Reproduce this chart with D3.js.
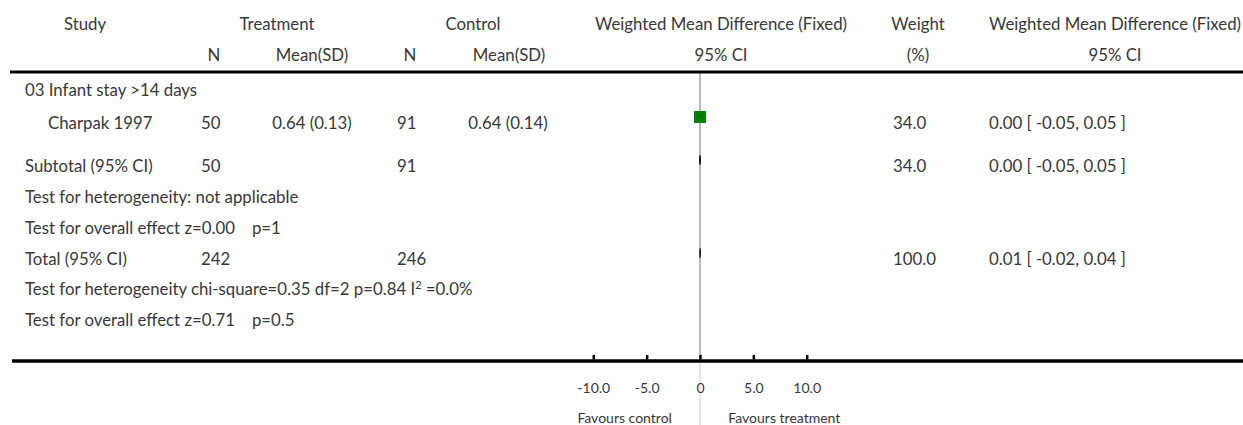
<!DOCTYPE html>
<html>
<head>
<meta charset="utf-8">
<script src="https://cdn.jsdelivr.net/npm/d3@7"></script>
<style>
  html, body { margin: 0; padding: 0; background: #fff; }
  svg text { font-family: Lato, "Open Sans", sans-serif; fill: #383838; white-space: pre; }
</style>
</head>
<body>
<svg id="forest" width="1243" height="425"></svg>
<script>
// Column headings
const headTop = ["Study", "Treatment", "Control", "Weighted Mean Difference (Fixed)", "Weight", "Weighted Mean Difference (Fixed)"];
const headBottom = ["N", "Mean(SD)", "N", "Mean(SD)", "95% CI", "(%)", "95% CI"];

// Subgroup
const groupTitle = "03 Infant stay >14 days";

// Individual studies
const studyNames = ["Charpak 1997"];
const treatN = [50];
const treatMeanSD = ["0.64 (0.13)"];
const ctrlN = [91];
const ctrlMeanSD = ["0.64 (0.14)"];
const studyEst = [0.00];
const studyLow = [-0.05];
const studyHigh = [0.05];
const studyWeight = [34.0];

// Subtotal and overall pooled results: [estimate, lower, upper]
const subtotalN = [50, 91];
const subtotalCI = [0.00, -0.05, 0.05];
const subtotalWeight = 34.0;
const totalN = [242, 246];
const totalCI = [0.01, -0.02, 0.04];
const totalWeight = 100.0;

// Test statistics lines
const subHetText = "Test for heterogeneity: not applicable";
const subEffect = ["Test for overall effect z=0.00", "p=1"];
const totHetText = ["Test for heterogeneity chi-square=0.35 df=2 p=0.84 I", "2", " =0.0%"];
const totEffect = ["Test for overall effect z=0.71", "p=0.5"];

// Axis
const tickValues = [-10, -5, 0, 5, 10];
const tickLabels = ["-10.0", "-5.0", "0", "5.0", "10.0"];
const favourLabels = ["Favours control", "Favours treatment"];

const svg = d3.select("#forest");
const FS = 16.8;
const FS_AXIS = 14;

const x = d3.scaleLinear().domain([-10, 10]).range([593.3, 806.7]);
const boxSize = d3.scaleSqrt().domain([0, 100]).range([0, 20.6]);

const locale = d3.formatLocale({ decimal: ".", thousands: ",", grouping: [3], currency: ["", ""], minus: "-" });
const f2 = locale.format(".2f"), f1 = locale.format(".1f");
const fmtCI = (e, l, h) => `${f2(e)} [ ${f2(l)}, ${f2(h)} ]`;

function txt(s, px, py, anchor = "start", size = FS) {
  return svg.append("text").attr("x", px).attr("y", py)
    .attr("text-anchor", anchor).attr("font-size", size).text(s);
}

// Header
const headTopX = [85, 277, 473, 721, 918, 1115];
headTop.forEach((h, i) => txt(h, headTopX[i], 30, "middle"));
const headBotX = [214, 312, 410, 509, 721, 918, 1115];
headBottom.forEach((h, i) => txt(h, headBotX[i], 61, "middle"));

// Row baselines
const yGroup = 96, yStudy0 = 129, ySub = 172, ySubHet = 203, ySubEff = 234,
      yTot = 265, yTotHet = 295, yTotEff = 326;
const markOffset = 12;
const yTop = 72, yAxis = 361;

// Zero line
svg.append("line").attr("x1", x(0)).attr("x2", x(0)).attr("y1", yTop).attr("y2", yAxis)
  .attr("stroke", "#a8a8a8").attr("stroke-width", 1.6);
svg.append("line").attr("x1", x(0)).attr("x2", x(0)).attr("y1", yAxis).attr("y2", 425)
  .attr("stroke", "#dcdcdc").attr("stroke-width", 1.4);

// Top rule
svg.append("line").attr("x1", 10).attr("x2", 1243).attr("y1", yTop).attr("y2", yTop)
  .attr("stroke", "#000").attr("stroke-width", 3);

txt(groupTitle, 25, yGroup);

// Studies
studyNames.forEach((name, i) => {
  const y = yStudy0 + i * 30;
  txt(name, 48, y);
  txt(String(treatN[i]), 201, y);
  txt(treatMeanSD[i], 312, y, "middle");
  txt(String(ctrlN[i]), 397, y);
  txt(ctrlMeanSD[i], 508, y, "middle");
  txt(f1(studyWeight[i]), 893, y);
  txt(fmtCI(studyEst[i], studyLow[i], studyHigh[i]), 989, y);
  const cy = y - markOffset, s = boxSize(studyWeight[i]);
  svg.append("rect").attr("x", x(studyEst[i]) - s / 2).attr("y", cy - s / 2)
    .attr("width", s).attr("height", s).attr("fill", "#008000");
  svg.append("line").attr("x1", x(studyLow[i])).attr("x2", x(studyHigh[i]))
    .attr("y1", cy).attr("y2", cy).attr("stroke", "#000").attr("stroke-width", 1);
});

function diamond(ci, y) {
  const cy = y - markOffset, h = 4.5;
  const pts = [[x(ci[1]), cy], [x(ci[0]), cy - h], [x(ci[2]), cy], [x(ci[0]), cy + h]];
  svg.append("path").attr("d", d3.line()(pts) + "Z")
    .attr("fill", "#000").attr("stroke", "#000").attr("stroke-width", 0.8);
}

// Subtotal
txt("Subtotal (95% CI)", 25, ySub);
txt(String(subtotalN[0]), 201, ySub);
txt(String(subtotalN[1]), 397, ySub);
txt(f1(subtotalWeight), 893, ySub);
txt(fmtCI(...subtotalCI), 989, ySub);
diamond(subtotalCI, ySub);
txt(subHetText, 25, ySubHet);
const se = txt(subEffect[0], 25, ySubEff);
se.append("tspan").attr("dx", 17).text(subEffect[1]);

// Total
txt("Total (95% CI)", 25, yTot);
txt(String(totalN[0]), 201, yTot);
txt(String(totalN[1]), 397, yTot);
txt(f1(totalWeight), 893, yTot);
txt(fmtCI(...totalCI), 989, yTot);
diamond(totalCI, yTot);
const th = txt(totHetText[0], 25, yTotHet);
th.append("tspan").attr("dy", -6).attr("font-size", 11).text(totHetText[1]);
th.append("tspan").attr("dy", 6).text(totHetText[2]);
const te = txt(totEffect[0], 25, yTotEff);
te.append("tspan").attr("dx", 17).text(totEffect[1]);

// Axis
const axis = d3.axisBottom(x).tickValues(tickValues)
  .tickFormat((d, i) => tickLabels[i]).tickSize(-6).tickPadding(22);
const ag = svg.append("g").attr("transform", `translate(0,${yAxis})`).call(axis);
ag.select(".domain").remove();
ag.selectAll(".tick line").attr("stroke", "#000").attr("stroke-width", 2.5).attr("y1", -1.5);
ag.selectAll(".tick text").attr("font-size", FS_AXIS).attr("font-family", null).attr("fill", "#383838");
ag.attr("font-family", null).attr("font-size", null);
svg.append("line").attr("x1", 12).attr("x2", 1243).attr("y1", yAxis).attr("y2", yAxis)
  .attr("stroke", "#000").attr("stroke-width", 3.5);

txt(favourLabels[0], x(-5) - 22, 423, "middle", FS_AXIS);
txt(favourLabels[1], x(5) + 31, 423, "middle", FS_AXIS);
</script>
</body>
</html>
